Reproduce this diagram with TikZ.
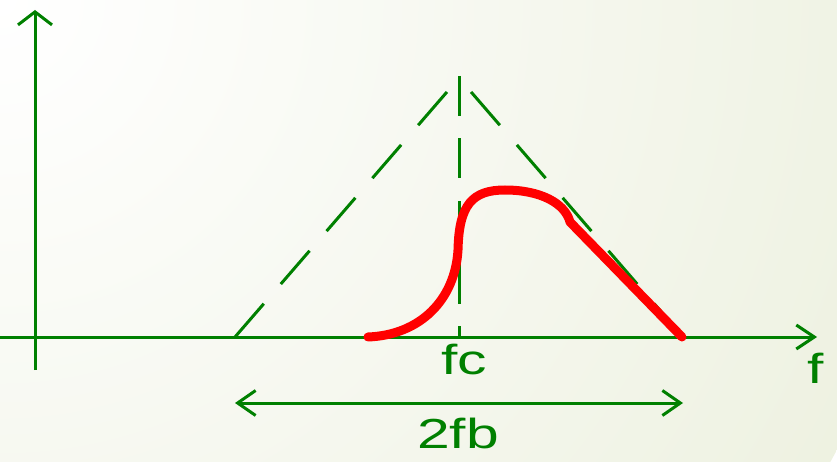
\documentclass[tikz,border=0pt]{standalone}
\usepackage{fontspec}
\setmainfont{Liberation Sans}
\usetikzlibrary{arrows.meta}
\definecolor{axgreen}{RGB}{0,128,0}
\definecolor{bgA}{RGB}{240,243,229}
\definecolor{bgB}{RGB}{226,233,201}
\definecolor{bgC}{RGB}{220,228,193}
\pgfdeclareradialshading{bgshade}{\pgfpoint{0bp}{0bp}}{color(0bp)=(white); color(22bp)=(bgA); color(42bp)=(bgB); color(50bp)=(bgC)}
\begin{document}
\begin{tikzpicture}[x=1pt,y=-1pt,
  axis/.style={draw=axgreen, line width=3pt},
  guide/.style={draw=axgreen, line width=3pt, dash pattern=on 44pt off 26pt},
  lbl/.style={text=axgreen, font=\fontsize{42}{42}\selectfont, inner sep=0pt, anchor=base},
  spec/.style={draw=red, line width=9pt, line cap=round, line join=round}]
\useasboundingbox (0,0) rectangle (837,462);
\begin{scope}
  \clip (0,0) rectangle (837,462);
  \shade[shading=bgshade] (0,0) circle (950);
\end{scope}
% named points
\coordinate (ytop) at (35,10);
\coordinate (ybot) at (35,370);
\coordinate (xl) at (0,337);
\coordinate (xr) at (817,337);
\coordinate (bl) at (235,337);
\coordinate (br) at (683,337);
\coordinate (apex) at (459,78);
\coordinate (ctop) at (459,76);
\coordinate (cbase) at (459,337);
\coordinate (al) at (235,403);
\coordinate (ar) at (683,403);
% dashed guide triangle and centre line
\draw[guide] (bl) -- (apex);
\draw[guide] (br) -- (apex);
\draw[axis, dash pattern=on 40pt off 22.5pt] (ctop) -- (cbase);
% axes
\draw[axis, -{Straight Barb[length=13pt,width=34pt]}] (ybot) -- (ytop);
\draw[axis, -{Straight Barb[length=18pt,width=24pt]}] (xl) -- (xr);
% bandwidth arrow
\draw[axis, {Straight Barb[length=18pt,width=25pt]}-{Straight Barb[length=18pt,width=25pt]}] (al) -- (ar);
% red spectrum
\draw[spec] (368,337) .. controls (420,335) and (455,300) .. (458,250)
  .. controls (459,205) and (472,190) .. (505,190)
  .. controls (540,190) and (565,203) .. (570,222) -- (682,337);
% labels
\node[lbl] (fc) at (464.5,374) {\scalebox{1.4}[1]{fc}};
\node[lbl] (fb) at (458,448) {\scalebox{1.4}[1]{2fb}};
\node[lbl] (f) at (815.5,383) {\scalebox{1.4}[1]{f}};
\end{tikzpicture}
\end{document}
